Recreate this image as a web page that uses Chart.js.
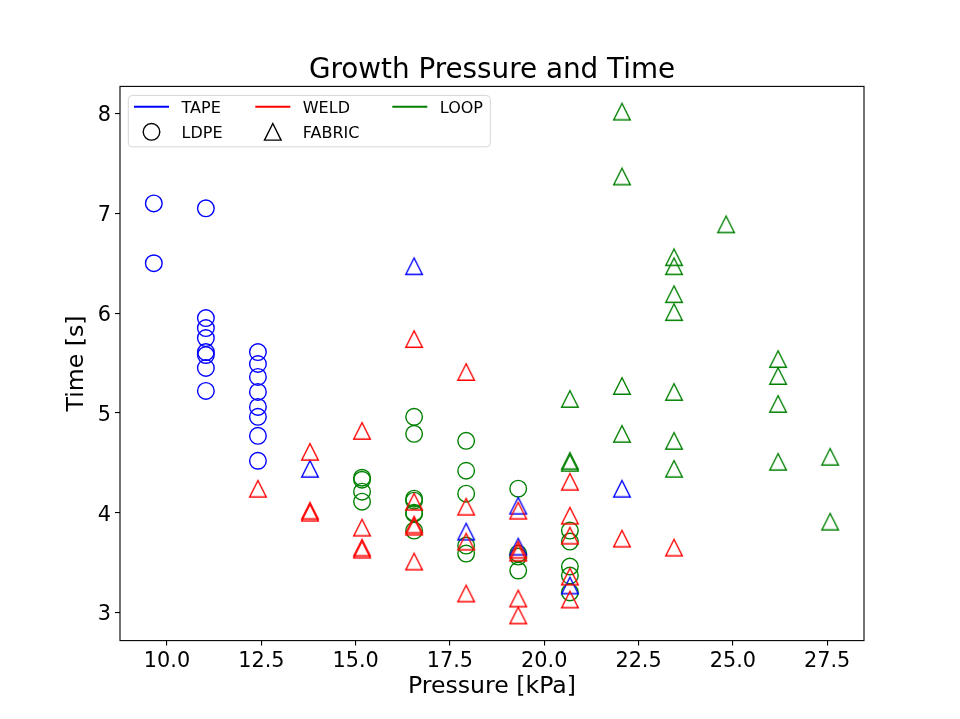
<!DOCTYPE html>
<html lang="en">
<head>
    <meta charset="UTF-8">
    <title>Growth Pressure and Time</title>
    <script src="https://cdn.jsdelivr.net/npm/chart.js"></script>
    <style>
        body { margin: 0; background: #fff; }
        #wrap { width: 960px; height: 719px; }
    </style>
</head>
<body>
<div id="wrap"><canvas id="chart" width="960" height="719"></canvas></div>
<script>
// pressure [kPa] and time [s] for each tape / material group
const tapeLdpeP = [9.65, 9.65, 11.03, 11.03, 11.03, 11.03, 11.03, 11.03, 11.03, 11.03,
                   12.41, 12.41, 12.41, 12.41, 12.41, 12.41, 12.41, 12.41];
const tapeLdpeT = [7.10, 6.50, 7.05, 5.95, 5.85, 5.75, 5.61, 5.58, 5.45, 5.22,
                   5.61, 5.49, 5.36, 5.21, 5.06, 4.96, 4.77, 4.52];

const tapeFabricP = [13.79, 16.55, 17.93, 19.31, 19.31, 20.68, 22.06];
const tapeFabricT = [4.44, 6.47, 3.81, 4.07, 3.66, 3.27, 4.24];

const weldFabricP = [12.41, 13.79, 13.79, 13.79, 15.17, 15.17, 15.17, 15.17,
                     16.55, 16.55, 16.55, 16.55, 16.55, 17.93, 17.93, 17.93, 17.93,
                     19.31, 19.31, 19.31, 19.31, 19.31, 20.68, 20.68, 20.68, 20.68, 20.68,
                     22.06, 23.44];
const weldFabricT = [4.24, 4.61, 4.02, 4.00, 4.82, 3.85, 3.65, 3.63,
                     5.74, 4.11, 3.88, 3.86, 3.51, 5.41, 4.06, 3.71, 3.19,
                     4.02, 3.63, 3.60, 3.14, 2.97, 4.31, 3.97, 3.77, 3.36, 3.13,
                     3.74, 3.65];

const loopLdpeP = [15.17, 15.17, 15.17, 15.17, 16.55, 16.55, 16.55, 16.55, 16.55, 16.55, 16.55,
                   17.93, 17.93, 17.93, 17.93, 17.93, 19.31, 19.31, 19.31, 19.31,
                   20.68, 20.68, 20.68, 20.68, 20.68];
const loopLdpeT = [4.35, 4.33, 4.21, 4.11, 4.96, 4.79, 4.14, 4.12, 4.00, 3.99, 3.82,
                   4.72, 4.42, 4.19, 3.67, 3.59, 4.24, 3.59, 3.56, 3.42,
                   3.82, 3.71, 3.46, 3.37, 3.20];

const loopFabricP = [20.68, 20.68, 20.68, 22.06, 22.06, 22.06, 22.06,
                     23.44, 23.44, 23.44, 23.44, 23.44, 23.44, 23.44, 24.82,
                     26.20, 26.20, 26.20, 26.20, 27.58, 27.58];
const loopFabricT = [5.14, 4.52, 4.50, 8.02, 7.37, 5.27, 4.79,
                     6.56, 6.47, 6.19, 6.01, 5.21, 4.72, 4.44, 6.89,
                     5.54, 5.37, 5.09, 4.51, 4.56, 3.91];

const xTicks = [10.0, 12.5, 15.0, 17.5, 20.0, 22.5, 25.0, 27.5];
const yTicks = [3, 4, 5, 6, 7, 8];

const lineItems = ['TAPE', 'WELD', 'LOOP'];
const lineColors = ['#0000ff', '#ff0000', '#008000'];
const markerItems = ['LDPE', 'FABRIC'];

const FONT = 'DejaVu Sans';
const MS = 8.3; // marker half size

function pts(px, ty) {
    return px.map((p, i) => ({x: p, y: ty[i]}));
}

// open triangle like matplotlib '^'
function makeTri(color) {
    const c = document.createElement('canvas');
    c.width = 22; c.height = 22;
    const g = c.getContext('2d');
    g.strokeStyle = color;
    g.lineWidth = 1.4;
    g.beginPath();
    g.moveTo(11, 11 - MS);
    g.lineTo(11 - MS, 11 + MS);
    g.lineTo(11 + MS, 11 + MS);
    g.closePath();
    g.stroke();
    return c;
}

// 5% margins like matplotlib autoscale
const allP = [].concat(tapeLdpeP, tapeFabricP, weldFabricP, loopLdpeP, loopFabricP);
const allT = [].concat(tapeLdpeT, tapeFabricT, weldFabricT, loopLdpeT, loopFabricT);
const pMin = Math.min(...allP), pMax = Math.max(...allP);
const tMin = Math.min(...allT), tMax = Math.max(...allT);
const xMin = pMin - 0.05 * (pMax - pMin), xMax = pMax + 0.05 * (pMax - pMin);
const yMin = tMin - 0.05 * (tMax - tMin), yMax = tMax + 0.05 * (tMax - tMin);

function circleSet(label, data, color, order) {
    return {label, data, order, pointStyle: 'circle', pointRadius: MS,
            borderColor: color, backgroundColor: 'rgba(0,0,0,0)', borderWidth: 1.4};
}
function triSet(label, data, color, order) {
    return {label, data, order, pointStyle: makeTri(color), pointRadius: MS,
            borderColor: color, backgroundColor: 'rgba(0,0,0,0)', borderWidth: 1.4};
}

const frameAndText = {
    id: 'frameAndText',
    afterDatasetsDraw(chart) {
        const ctx = chart.ctx, a = chart.chartArea;
        ctx.save();
        ctx.strokeStyle = '#000';
        ctx.lineWidth = 1.1;
        ctx.strokeRect(a.left, a.top, a.right - a.left, a.bottom - a.top);
        ctx.restore();
    },
    afterDraw(chart) {
        const ctx = chart.ctx, a = chart.chartArea;
        ctx.save();
        // title
        ctx.fillStyle = '#000';
        ctx.font = '27.8px "' + FONT + '"';
        ctx.textAlign = 'center';
        ctx.textBaseline = 'alphabetic';
        ctx.fillText('Growth Pressure and Time', (a.left + a.right) / 2, 77.5);

        // legend box
        const x0 = a.left + 8.3, y0 = a.top + 9, w = 362, h = 51.4;
        ctx.fillStyle = 'rgba(255,255,255,0.8)';
        ctx.strokeStyle = 'rgba(204,204,204,0.8)';
        ctx.lineWidth = 1;
        ctx.beginPath();
        ctx.roundRect(x0, y0, w, h, 4);
        ctx.fill();
        ctx.stroke();

        const colX = [5.7, 127, 264];
        const rowY = [11.4, 36.4];
        ctx.font = '16px "' + FONT + '"';
        ctx.textAlign = 'left';
        lineItems.forEach((name, i) => {
            const hx = x0 + colX[i], hy = y0 + rowY[0];
            ctx.strokeStyle = lineColors[i];
            ctx.lineWidth = 2.1;
            ctx.beginPath();
            ctx.moveTo(hx, hy);
            ctx.lineTo(hx + 35, hy);
            ctx.stroke();
            ctx.fillStyle = '#000';
            ctx.fillText(name, hx + 47.5, hy + 5.8);
        });
        markerItems.forEach((name, i) => {
            const hx = x0 + colX[i], hy = y0 + rowY[1];
            const cx = hx + 17.5;
            ctx.strokeStyle = '#000';
            ctx.lineWidth = 1.4;
            ctx.beginPath();
            if (i === 0) {
                ctx.arc(cx, hy, MS, 0, Math.PI * 2);
            } else {
                ctx.moveTo(cx, hy - MS);
                ctx.lineTo(cx - MS, hy + MS);
                ctx.lineTo(cx + MS, hy + MS);
                ctx.closePath();
            }
            ctx.stroke();
            ctx.fillStyle = '#000';
            ctx.fillText(name, hx + 47.5, hy + 5.8);
        });
        ctx.restore();
    }
};

const tickFont = {family: FONT, size: 20.8};
const labelFont = {family: FONT, size: 23.6};

new Chart(document.getElementById('chart'), {
    type: 'scatter',
    data: {
        datasets: [
            triSet('WELD FABRIC', pts(weldFabricP, weldFabricT), '#ff0000', 0),
            circleSet('TAPE LDPE', pts(tapeLdpeP, tapeLdpeT), '#0000ff', 1),
            triSet('TAPE FABRIC', pts(tapeFabricP, tapeFabricT), '#0000ff', 1),
            circleSet('LOOP LDPE', pts(loopLdpeP, loopLdpeT), '#008000', 2),
            triSet('LOOP FABRIC', pts(loopFabricP, loopFabricT), '#008000', 2)
        ]
    },
    options: {
        responsive: false,
        animation: false,
        layout: { padding: {top: 86.4, right: 96, bottom: 0, left: 0} },
        plugins: {
            legend: { display: false },
            title: { display: false },
            tooltip: { enabled: false }
        },
        scales: {
            x: {
                type: 'linear',
                min: xMin,
                max: xMax,
                afterFit: s => { s.height = 78.4; },
                afterBuildTicks: s => { s.ticks = xTicks.map(v => ({value: v})); },
                ticks: {
                    callback: v => v.toFixed(1),
                    font: tickFont, color: '#000', padding: 4,
                    maxRotation: 0, autoSkip: false
                },
                grid: { drawOnChartArea: false, drawTicks: true, tickLength: 5, color: '#000', lineWidth: 1.1 },
                border: { display: false },
                title: { display: true, text: 'Pressure [kPa]', font: labelFont, color: '#000',
                         padding: {top: 0, bottom: 18} }
            },
            y: {
                type: 'linear',
                min: yMin,
                max: yMax,
                afterFit: s => { s.width = 120; },
                afterBuildTicks: s => { s.ticks = yTicks.map(v => ({value: v})); },
                ticks: {
                    callback: v => String(v),
                    font: tickFont, color: '#000', padding: 4, autoSkip: false,
                    labelOffset: 2.5
                },
                grid: { drawOnChartArea: false, drawTicks: true, tickLength: 5, color: '#000', lineWidth: 1.1 },
                border: { display: false },
                title: { display: true, text: 'Time [s]', font: labelFont, color: '#000',
                         padding: {top: 63, bottom: 0} }
            }
        }
    },
    plugins: [frameAndText]
});
</script>
</body>
</html>
